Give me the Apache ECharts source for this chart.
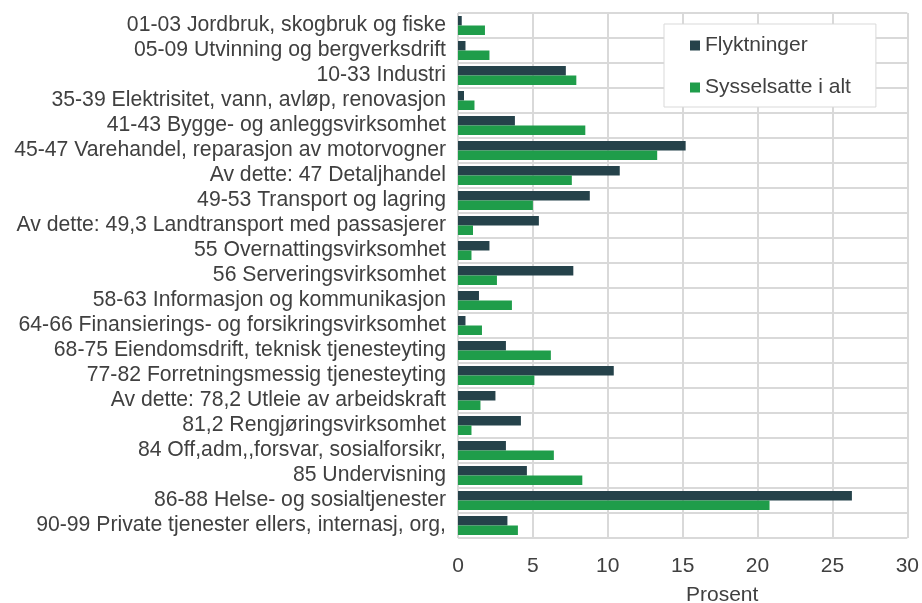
<!DOCTYPE html>
<html>
<head>
<meta charset="utf-8">
<script src="https://cdn.jsdelivr.net/npm/echarts@6.0.0/dist/echarts.min.js"></script>
<style>
  html, body { margin: 0; padding: 0; background: #fff; }
  #chart { width: 922px; height: 603px; }
</style>
</head>
<body>
<div id="chart"></div>
<script>
// Næringer (fra toppen)
const categories = [
    '01-03 Jordbruk, skogbruk og fiske',
    '05-09 Utvinning og bergverksdrift',
    '10-33 Industri',
    '35-39 Elektrisitet, vann, avløp, renovasjon',
    '41-43 Bygge- og anleggsvirksomhet',
    '45-47 Varehandel, reparasjon av motorvogner',
    'Av dette: 47 Detaljhandel',
    '49-53 Transport og lagring',
    'Av dette: 49,3 Landtransport med passasjerer',
    '55 Overnattingsvirksomhet',
    '56 Serveringsvirksomhet',
    '58-63 Informasjon og kommunikasjon',
    '64-66 Finansierings- og forsikringsvirksomhet',
    '68-75 Eiendomsdrift, teknisk tjenesteyting',
    '77-82 Forretningsmessig tjenesteyting',
    'Av dette: 78,2 Utleie av arbeidskraft',
    '81,2 Rengjøringsvirksomhet',
    '84 Off,adm,,forsvar, sosialforsikr,',
    '85 Undervisning',
    '86-88 Helse- og sosialtjenester',
    '90-99 Private tjenester ellers, internasj, org,'
];

const flyktninger = [0.25, 0.5, 7.2, 0.4, 3.8, 15.2, 10.8, 8.8, 5.4, 2.1, 7.7, 1.4, 0.5, 3.2, 10.4, 2.5, 4.2, 3.2, 4.6, 26.3, 3.3];
const sysselsatte = [1.8, 2.1, 7.9, 1.1, 8.5, 13.3, 7.6, 5.0, 1.0, 0.9, 2.6, 3.6, 1.6, 6.2, 5.1, 1.5, 0.9, 6.4, 8.3, 20.8, 4.0];

const xTicks = [0, 5, 10, 15, 20, 25, 30];

const chart = echarts.init(document.getElementById('chart'));

const font = 'Liberation Sans, Arial, sans-serif';
const textColor = '#404040';
const gridColor = '#d9d9d9';

chart.setOption({
    animation: false,
    textStyle: { fontFamily: font },
    title: {
        text: 'Prosent',
        left: 686,
        top: 585,
        padding: 0,
        textStyle: { fontSize: 21, fontWeight: 'normal', color: textColor, fontFamily: font }
    },
    legend: {
        orient: 'vertical',
        left: 664,
        top: 24,
        padding: [11, 25, 9, 26],
        itemGap: 21,
        itemWidth: 10,
        itemHeight: 10,
        itemTextGap: 5,
        icon: 'rect',
        backgroundColor: '#fff',
        borderColor: gridColor,
        borderWidth: 1,
        textStyle: { fontSize: 21, color: textColor, fontFamily: font },
        data: ['Flyktninger', 'Sysselsatte i alt']
    },
    grid: { left: 458, right: 14, top: 13, bottom: 65, containLabel: false },
    xAxis: {
        type: 'value',
        min: xTicks[0],
        max: xTicks[xTicks.length - 1],
        interval: 5,
        axisLine: { show: false },
        axisTick: { show: false },
        axisLabel: { fontSize: 21, color: textColor, margin: 18, fontFamily: font },
        splitLine: { show: true, lineStyle: { color: gridColor, width: 2 } }
    },
    yAxis: {
        type: 'category',
        inverse: true,
        data: categories,
        axisLine: { show: false },
        axisTick: { show: false },
        axisLabel: { interval: 0, fontSize: 21.2, color: textColor, margin: 12, fontFamily: font },
        splitLine: { show: true, interval: 0, lineStyle: { color: gridColor, width: 2 } }
    },
    series: [
        {
            name: 'Flyktninger',
            type: 'bar',
            data: flyktninger,
            barGap: '0%',
            barCategoryGap: '24%',
            itemStyle: { color: '#25424a' }
        },
        {
            name: 'Sysselsatte i alt',
            type: 'bar',
            data: sysselsatte,
            barGap: '0%',
            barCategoryGap: '24%',
            itemStyle: { color: '#1f9d4a' }
        }
    ]
});
</script>
</body>
</html>
